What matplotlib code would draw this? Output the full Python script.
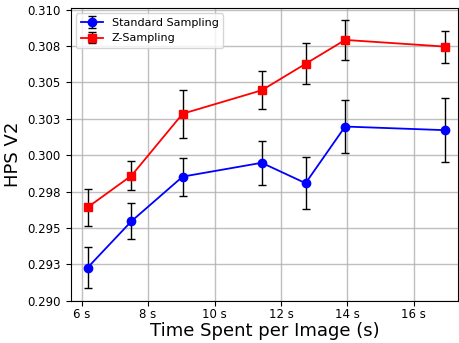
import matplotlib
matplotlib.use("Agg")
import matplotlib.pyplot as plt
import numpy as np

# ==============================================================
# DATOS
# ==============================================================
tiempo = [6.18, 7.5, 9.04, 11.42, 12.74, 13.93, 16.95]

std_media = [0.29228, 0.29547, 0.29853, 0.29948, 0.29808, 0.30197, 0.30172]
std_error = [0.00142, 0.00125, 0.00130, 0.00150, 0.00180, 0.00179, 0.00220]

z_media = [0.29642, 0.29860, 0.30285, 0.30446, 0.30628, 0.30792, 0.30746]
z_error = [0.00125, 0.00100, 0.00164, 0.00130, 0.00142, 0.00135, 0.00110]

y_ticks = [0.290, 0.2925, 0.295, 0.2975, 0.300, 0.3025, 0.305, 0.3075, 0.310]
y_labels = ["0.290", "0.293", "0.295", "0.298", "0.300", "0.303", "0.305", "0.308", "0.310"]
x_ticks = [6, 8, 10, 12, 14, 16]
x_labels = ["6 s", "8 s", "10 s", "12 s", "14 s", "16 s"]

# ==============================================================
# GRÁFICA
# ==============================================================
fig = plt.figure(figsize=(4.59, 3.43), dpi=100)
ax = fig.add_axes([0.154, 0.123, 0.844, 0.854])

ax.errorbar(tiempo, std_media, yerr=std_error, color='blue', marker='o',
            markersize=6, linewidth=1.3, ecolor='black', elinewidth=1,
            capsize=3, label="Standard Sampling")
ax.errorbar(tiempo, z_media, yerr=z_error, color='red', marker='s',
            markersize=6, linewidth=1.3, ecolor='black', elinewidth=1,
            capsize=3, label="Z-Sampling")

ax.set_xlim(5.67, 17.33)
ax.set_ylim(0.290, 0.31012)
ax.set_yticks(y_ticks)
ax.set_yticklabels(y_labels)
ax.set_xticks(x_ticks)
ax.set_xticklabels(x_labels)
ax.tick_params(labelsize=8.5)
ax.tick_params(axis='x', pad=1.5)

ax.grid(True, color='#b0b0b0', linewidth=1, alpha=0.8)
ax.set_axisbelow(True)

ax.set_xlabel("Time Spent per Image (s)", fontsize=13, labelpad=1)
ax.set_ylabel("HPS V2", fontsize=13)
ax.legend(loc='upper left', fontsize=8)

plt.savefig("out.png", dpi=100)
